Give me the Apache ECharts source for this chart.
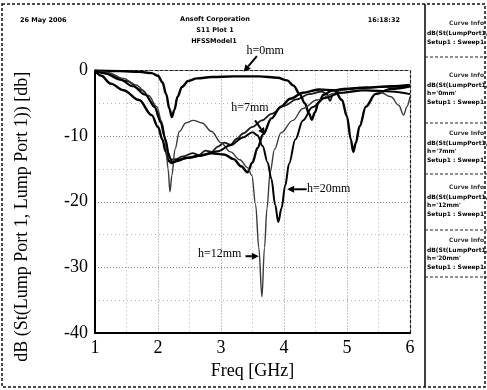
<!DOCTYPE html>
<html><head><meta charset="utf-8">
<script src="https://cdn.jsdelivr.net/npm/echarts@6/dist/echarts.min.js"></script>
<style>html,body{margin:0;padding:0;background:#fff}#c{width:487px;height:390px}</style>
</head><body><div id="c"></div>
<script>
// ---- data (Freq in GHz, S11 in dB) ----
const seriesNames = ['h=nom', 'h=0mm', 'h=7mm', 'h=12mm', 'h=20mm'];

const freqNom = [1.0, 1.2, 1.5, 1.75, 1.92, 2.03, 2.1, 2.16, 2.21, 2.28, 2.4, 2.55, 2.65, 2.75, 2.85, 2.95, 3.05, 3.15, 3.25, 3.35, 3.5, 3.65, 3.8, 4.0, 4.2, 4.4, 4.6, 4.68, 4.73, 4.78, 4.9, 5.2, 5.6, 6.0];
const dbNom   = [0, -0.5, -1.6, -3.0, -5.0, -7.5, -10.0, -12.5, -13.6, -13.5, -13.1, -12.6, -12.9, -12.2, -12.4, -11.6, -11.0, -11.3, -10.4, -9.6, -8.6, -7.6, -6.6, -5.4, -4.4, -3.6, -3.2, -3.6, -4.6, -3.6, -3.0, -2.7, -2.5, -2.3];

const freqH0 = [1.0, 1.4, 1.7, 1.9, 2.0, 2.07, 2.13, 2.18, 2.22, 2.26, 2.31, 2.38, 2.48, 2.62, 2.85, 3.2, 3.6, 3.9, 4.05, 4.15, 4.25, 4.33, 4.4, 4.44, 4.49, 4.55, 4.63, 4.75, 4.95, 5.3, 5.7, 6.0];
const dbH0   = [0, -0.1, -0.2, -0.4, -0.8, -1.8, -3.6, -5.8, -7.1, -6.0, -4.0, -2.5, -1.6, -1.2, -1.0, -0.9, -0.9, -1.1, -1.5, -2.3, -3.6, -5.0, -6.6, -7.5, -6.4, -4.8, -3.7, -3.1, -2.8, -2.6, -2.4, -2.2];

const freqH7 = [1.0, 1.1, 1.25, 1.45, 1.7, 1.9, 2.0, 2.07, 2.12, 2.17, 2.22, 2.3, 2.45, 2.65, 2.85, 3.05, 3.2, 3.32, 3.42, 3.5, 3.58, 3.67, 3.8, 3.95, 4.1, 4.3, 4.55, 4.8, 4.92, 5.0, 5.06, 5.1, 5.14, 5.2, 5.3, 5.45, 5.7, 6.0];
const dbH7   = [0, -0.8, -2.0, -3.0, -4.5, -6.8, -8.6, -10.5, -12.3, -13.8, -14.1, -13.8, -13.3, -13.0, -12.6, -12.8, -13.5, -14.6, -15.5, -14.0, -11.8, -9.7, -7.3, -5.5, -4.3, -3.4, -2.9, -3.0, -4.5, -7.0, -10.5, -12.4, -11.0, -8.5, -5.5, -3.6, -2.8, -2.4];

const freqH12 = [1.0, 1.2, 1.45, 1.65, 1.85, 1.98, 2.06, 2.12, 2.16, 2.19, 2.22, 2.27, 2.34, 2.44, 2.56, 2.7, 2.85, 3.0, 3.15, 3.3, 3.42, 3.49, 3.55, 3.6, 3.65, 3.69, 3.73, 3.78, 3.85, 3.95, 4.14, 4.3, 4.52, 4.8, 5.2, 5.5, 5.7, 5.82, 5.9, 5.95, 6.0];
const dbH12   = [0, -0.3, -1.2, -2.2, -3.8, -5.5, -7.8, -11.0, -15.0, -18.5, -16.0, -12.0, -9.3, -8.0, -7.6, -8.0, -9.3, -11.0, -12.4, -13.6, -14.8, -16.0, -20.5, -27.0, -34.5, -27.0, -21.0, -15.5, -12.0, -9.5, -7.6, -5.8, -4.5, -3.5, -3.0, -3.2, -4.0, -5.3, -6.8, -5.5, -4.0];

const freqH20 = [1.0, 1.15, 1.4, 1.6, 1.8, 1.95, 2.05, 2.12, 2.18, 2.23, 2.32, 2.5, 2.7, 2.95, 3.15, 3.35, 3.5, 3.58, 3.66, 3.74, 3.8, 3.86, 3.91, 3.96, 4.02, 4.08, 4.18, 4.3, 4.45, 4.65, 4.9, 5.3, 5.7, 6.0];
const dbH20   = [0, -0.4, -1.4, -2.4, -3.7, -5.6, -8.0, -10.5, -13.2, -14.0, -13.6, -13.3, -12.9, -12.3, -11.4, -10.2, -9.4, -9.9, -11.5, -14.0, -16.5, -20.5, -23.1, -21.0, -17.5, -14.2, -10.5, -7.6, -5.6, -4.2, -3.4, -3.0, -3.2, -3.6];

const xTickLabels = ['1', '2', '3', '4', '5', '6'];
const yTickLabels = ['0', '-10', '-20', '-30', '-40'];

// annotations: text and arrow tail/head in data coordinates
const annoText = ['h=0mm', 'h=7mm', 'h=20mm', 'h=12mm'];
const annoTextPos = [[3.70, 3.0], [3.46, -5.7], [4.71, -18.1], [2.98, -27.9]];
const annoTail = [[3.57, 2.2], [3.54, -7.6], [4.36, -18.1], [3.39, -28.3]];
const annoHead = [[3.36, -0.2], [3.70, -9.8], [4.05, -18.1], [3.60, -28.3]];

const legendH = ['', "h='0mm'", "h='7mm'", "h='12mm'", "h='20mm'"];

// ---- chart ----
const zip = (a, b) => a.map((v, i) => [v, b[i]]);
const SERIF = '"Liberation Serif", "Times New Roman", serif';
const chart = echarts.init(document.getElementById('c'), null, {renderer: 'canvas'});

function mkSeries(name, f, d, width, color) {
  return {
    name, type: 'line', data: zip(f, d), showSymbol: false, symbol: 'none',
    smooth: 0.35, smoothMonotone: 'x', clip: true,
    lineStyle: {color, width}, z: 3, animation: false
  };
}

const option = {
  backgroundColor: '#fff',
  animation: false,
  grid: {left: 95, right: 77, top: 70.5, bottom: 57, containLabel: false},
  xAxis: [{
    type: 'value', min: 1, max: 6, interval: 1,
    axisLine: {show: true, onZero: false, lineStyle: {color: '#000', width: 2}},
    axisTick: {show: false},
    axisLabel: {color: '#000', fontFamily: SERIF, fontSize: 18, margin: 6,
      formatter: v => xTickLabels[Math.round(v) - 1]},
    splitLine: {show: true, lineStyle: {color: '#8a8a8a', type: [1, 2], width: 1}},
    minorTick: {show: false, splitNumber: 2},
    minorSplitLine: {show: true, lineStyle: {color: '#b0b0b0', type: [1, 3], width: 1}},
    name: 'Freq [GHz]', nameLocation: 'middle', nameGap: 21,
    nameTextStyle: {color: '#000', fontFamily: SERIF, fontSize: 18}
  }, {
    type: 'value', min: 1, max: 6, position: 'top',
    axisLine: {show: true, onZero: false, lineStyle: {color: '#222', width: 1.2, type: [3, 2]}},
    axisTick: {show: false}, axisLabel: {show: false}, splitLine: {show: false}
  }],
  yAxis: [{
    type: 'value', min: -40, max: 0, interval: 10,
    axisLine: {show: true, onZero: false, lineStyle: {color: '#000', width: 2}},
    axisTick: {show: false},
    axisLabel: {color: '#000', fontFamily: SERIF, fontSize: 18, margin: 7,
      formatter: v => yTickLabels[Math.round(-v / 10)]},
    splitLine: {show: true, lineStyle: {color: '#8a8a8a', type: [1, 2], width: 1}},
    minorTick: {show: false, splitNumber: 2},
    minorSplitLine: {show: true, lineStyle: {color: '#b8b8b8', type: [1, 3], width: 1}},
    name: 'dB (St(Lump Port 1, Lump Port 1)) [db]', nameLocation: 'middle', nameGap: 64,
    nameTextStyle: {color: '#000', fontFamily: SERIF, fontSize: 18, padding: [0, 30, 0, 0]}
  }, {
    type: 'value', min: -40, max: 0, position: 'right',
    axisLine: {show: true, onZero: false, lineStyle: {color: '#222', width: 1.2, type: [3, 2]}},
    axisTick: {show: false}, axisLabel: {show: false}, splitLine: {show: false}
  }],
  series: [
    mkSeries(seriesNames[0], freqNom, dbNom, 1.8, '#1a1a1a'),
    mkSeries(seriesNames[1], freqH0, dbH0, 2.4, '#000'),
    mkSeries(seriesNames[2], freqH7, dbH7, 2.4, '#000'),
    mkSeries(seriesNames[3], freqH12, dbH12, 1.4, '#3a3a3a'),
    mkSeries(seriesNames[4], freqH20, dbH20, 2.0, '#000')
  ]
};
chart.setOption(option);

// ---- decorations: frames, header, legend panel, annotations ----
const g = [];
const dash = [3, 2];
g.push({type: 'rect', shape: {x: 2, y: 4, width: 483, height: 383}, style: {fill: null, stroke: '#111', lineWidth: 1.5, lineDash: dash}, silent: true});
g.push({type: 'line', shape: {x1: 425, y1: 4, x2: 425, y2: 387}, style: {stroke: '#111', lineWidth: 1.6}, silent: true});
[57, 123, 174, 230, 277].forEach(y => g.push({type: 'line', shape: {x1: 425, y1: y, x2: 487, y2: y}, style: {stroke: '#222', lineWidth: 1.2, lineDash: dash}, silent: true}));

const hdrFont = 'bold 6.5px "DejaVu Sans", sans-serif';
g.push({type: 'text', style: {text: '26 May 2006', x: 20, y: 20, font: hdrFont, fill: '#000', textVerticalAlign: 'middle'}});
g.push({type: 'text', style: {text: 'Ansoft Corporation', x: 215, y: 19, font: hdrFont, fill: '#000', textAlign: 'center', textVerticalAlign: 'middle'}});
g.push({type: 'text', style: {text: 'S11 Plot 1', x: 215, y: 30, font: hdrFont, fill: '#000', textAlign: 'center', textVerticalAlign: 'middle'}});
g.push({type: 'text', style: {text: 'HFSSModel1', x: 214, y: 41, font: hdrFont, fill: '#000', textAlign: 'center', textVerticalAlign: 'middle'}});
g.push({type: 'text', style: {text: '16:18:32', x: 400, y: 20, font: hdrFont, fill: '#000', textAlign: 'right', textVerticalAlign: 'middle'}});

const legFont = 'bold 6px "DejaVu Sans", sans-serif';
const boxTops = [14, 66, 124, 178, 231];
boxTops.forEach((t, i) => {
  g.push({type: 'text', style: {text: 'Curve Info', x: 484, y: t + 9, font: legFont, fill: '#333', textAlign: 'right', textVerticalAlign: 'middle'}});
  g.push({type: 'text', style: {text: 'dB(St(LumpPort1,LumpPort1))', x: 427, y: t + 19, font: legFont, fill: '#000', textVerticalAlign: 'middle'}});
  let yy = t + 27;
  if (legendH[i]) { g.push({type: 'text', style: {text: legendH[i], x: 427, y: yy, font: legFont, fill: '#000', textVerticalAlign: 'middle'}}); yy += 8; }
  g.push({type: 'text', style: {text: 'Setup1 : Sweep1', x: 427, y: yy + 1, font: legFont, fill: '#000', textVerticalAlign: 'middle'}});
});

const toPx = p => chart.convertToPixel({xAxisIndex: 0, yAxisIndex: 0}, p);
annoText.forEach((txt, i) => {
  const tp = toPx(annoTextPos[i]);
  const a = toPx(annoTail[i]);
  const b = toPx(annoHead[i]);
  g.push({type: 'text', z: 10, style: {text: txt, x: tp[0], y: tp[1], font: '12px ' + SERIF, fill: '#000', textAlign: 'center', textVerticalAlign: 'middle'}});
  const dx = b[0] - a[0], dy = b[1] - a[1];
  const L = Math.hypot(dx, dy), ux = dx / L, uy = dy / L;
  const hl = 7, hw = 3.5;
  const bx = b[0] - ux * hl, by = b[1] - uy * hl;
  g.push({type: 'line', z: 10, shape: {x1: a[0], y1: a[1], x2: bx, y2: by}, style: {stroke: '#000', lineWidth: 2}});
  g.push({type: 'polygon', z: 10, shape: {points: [[b[0], b[1]], [bx - uy * hw, by + ux * hw], [bx + uy * hw, by - ux * hw]]}, style: {fill: '#000'}});
});
chart.setOption({graphic: {elements: g}});
</script>
</body></html>
